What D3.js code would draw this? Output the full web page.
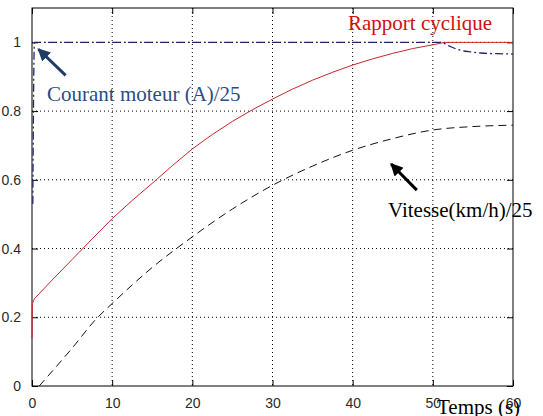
<!DOCTYPE html>
<html>
<head>
<meta charset="utf-8">
<script src="https://cdn.jsdelivr.net/npm/d3@7"></script>
<style>
  body { margin: 0; background: #fff; }
  .tick-label { font-family: "Liberation Sans", Arial, sans-serif; font-size: 14px; fill: #2a2a2a; }
  .note { font-family: "Liberation Serif", "Times New Roman", serif; font-size: 21px; }
</style>
</head>
<body>
<svg id="chart" width="543" height="416"></svg>
<script>
// Temps (s) and normalised values
var xTicks = [0, 10, 20, 30, 40, 50, 60];
var yTicks = [0, 0.2, 0.4, 0.6, 0.8, 1];

var rapportT = [0, 0.05, 0.3, 2.5, 5, 7.5, 10, 12.5, 15, 17.5, 20, 22.5, 25, 27.5, 30, 32.5, 35, 37.5, 40, 42.5, 45, 47.5, 50, 51.5, 60];
var rapportV = [0.139, 0.24, 0.254, 0.308, 0.368, 0.428, 0.487, 0.54, 0.59, 0.641, 0.69, 0.732, 0.77, 0.804, 0.835, 0.864, 0.89, 0.913, 0.934, 0.952, 0.968, 0.982, 0.993, 1.0, 1.0];

var courantT = [0.1, 0.3, 50, 51, 52, 53, 54.8, 56, 58, 60];
var courantV = [0.53, 1.0, 1.0, 1.0, 0.99, 0.98, 0.972, 0.969, 0.967, 0.966];

var vitesseT = [0.9, 5, 8, 10, 15, 20, 25, 30, 35, 40, 45, 50, 55, 60];
var vitesseV = [0, 0.11, 0.195, 0.24, 0.345, 0.434, 0.515, 0.584, 0.64, 0.686, 0.72, 0.745, 0.755, 0.759];

var margin = { top: 8, right: 30, bottom: 30, left: 32 };
var width = 543 - margin.left - margin.right;
var height = 386 - margin.top;

var svg = d3.select("#chart")
  .append("g")
  .attr("transform", "translate(" + margin.left + "," + margin.top + ")");

var x = d3.scaleLinear().domain([0, 60]).range([0, width]);
var y = d3.scaleLinear().domain([0, 1.1]).range([height, 0]);

// dotted grid
svg.selectAll(".vgrid")
  .data(xTicks.slice(1, -1))
  .enter().append("line")
  .attr("x1", function(d) { return x(d); })
  .attr("x2", function(d) { return x(d); })
  .attr("y1", 0).attr("y2", height)
  .style("stroke", "#000").style("stroke-width", 1)
  .style("stroke-dasharray", "1,3");

svg.selectAll(".hgrid")
  .data(yTicks.slice(1))
  .enter().append("line")
  .attr("x1", 0).attr("x2", width)
  .attr("y1", function(d) { return y(d); })
  .attr("y2", function(d) { return y(d); })
  .style("stroke", "#000").style("stroke-width", 1)
  .style("stroke-dasharray", "1,3");

// axes with inward ticks, box on all sides
function styleAxis(g) {
  g.select(".domain").remove();
  g.selectAll("line").style("stroke", "#000");
  g.selectAll("text").attr("class", "tick-label");
}

svg.append("g")
  .attr("transform", "translate(0," + height + ")")
  .call(d3.axisBottom(x).tickValues(xTicks).tickSize(-6).tickPadding(12).tickFormat(d3.format("d")))
  .call(styleAxis);

svg.append("g")
  .call(d3.axisTop(x).tickValues(xTicks).tickSize(-6).tickFormat(""))
  .call(styleAxis);

svg.append("g")
  .call(d3.axisLeft(y).tickValues(yTicks).tickSize(-6).tickPadding(11).tickFormat(function(d) { return d === 0 || d === 1 ? d : d3.format(".1f")(d); }))
  .call(styleAxis);

svg.append("g")
  .attr("transform", "translate(" + width + ",0)")
  .call(d3.axisRight(y).tickValues(yTicks).tickSize(-6).tickFormat(""))
  .call(styleAxis);

svg.append("rect")
  .attr("x", 0).attr("y", 0)
  .attr("width", width).attr("height", height)
  .style("fill", "none").style("stroke", "#000").style("stroke-width", 1);

// curves
var line = d3.line()
  .x(function(d) { return x(d[0]); })
  .y(function(d) { return y(d[1]); });

svg.append("path")
  .datum(d3.zip(vitesseT, vitesseV))
  .attr("d", line.curve(d3.curveMonotoneX))
  .style("fill", "none").style("stroke", "#111").style("stroke-width", 1)
  .style("stroke-dasharray", "8,5");

svg.append("path")
  .datum(d3.zip(rapportT, rapportV))
  .attr("d", line.curve(d3.curveLinear))
  .style("fill", "none").style("stroke", "#c8262b").style("stroke-width", 1);

svg.append("path")
  .datum(d3.zip(courantT, courantV))
  .attr("d", line.curve(d3.curveMonotoneX))
  .style("fill", "none").style("stroke", "#24246e").style("stroke-width", 1.3)
  .style("stroke-dasharray", "8,3,2,3");

// arrows
var defs = d3.select("#chart").append("defs");
[["head-blue", "#1f3b66"], ["head-black", "#000"]].forEach(function(m) {
  defs.append("marker")
    .attr("id", m[0])
    .attr("viewBox", "0 0 10 10")
    .attr("refX", 9).attr("refY", 5)
    .attr("markerWidth", 4.2).attr("markerHeight", 4.2)
    .attr("orient", "auto")
    .append("path")
    .attr("d", "M0,0L10,5L0,10z")
    .style("fill", m[1]);
});

svg.append("line")
  .attr("x1", x(4.2)).attr("y1", y(0.904))
  .attr("x2", x(0.8)).attr("y2", y(0.98))
  .style("stroke", "#1f3b66").style("stroke-width", 3)
  .attr("marker-end", "url(#head-blue)");

svg.append("line")
  .attr("x1", x(48)).attr("y1", y(0.57))
  .attr("x2", x(44.8)).attr("y2", y(0.646))
  .style("stroke", "#000").style("stroke-width", 3)
  .attr("marker-end", "url(#head-black)");

// labels
var root = d3.select("#chart");
root.append("text").attr("class", "note")
  .attr("x", 348).attr("y", 30)
  .style("fill", "#d01010")
  .text("Rapport cyclique");

root.append("text").attr("class", "note")
  .attr("x", 47).attr("y", 101)
  .style("fill", "#2b4d86")
  .text("Courant moteur (A)/25");

root.append("text").attr("class", "note")
  .attr("x", 388).attr("y", 217)
  .style("fill", "#000")
  .text("Vitesse(km/h)/25");

root.append("text").attr("class", "note")
  .attr("x", 437).attr("y", 414)
  .style("fill", "#000")
  .text("Temps (s)");
</script>
</body>
</html>
